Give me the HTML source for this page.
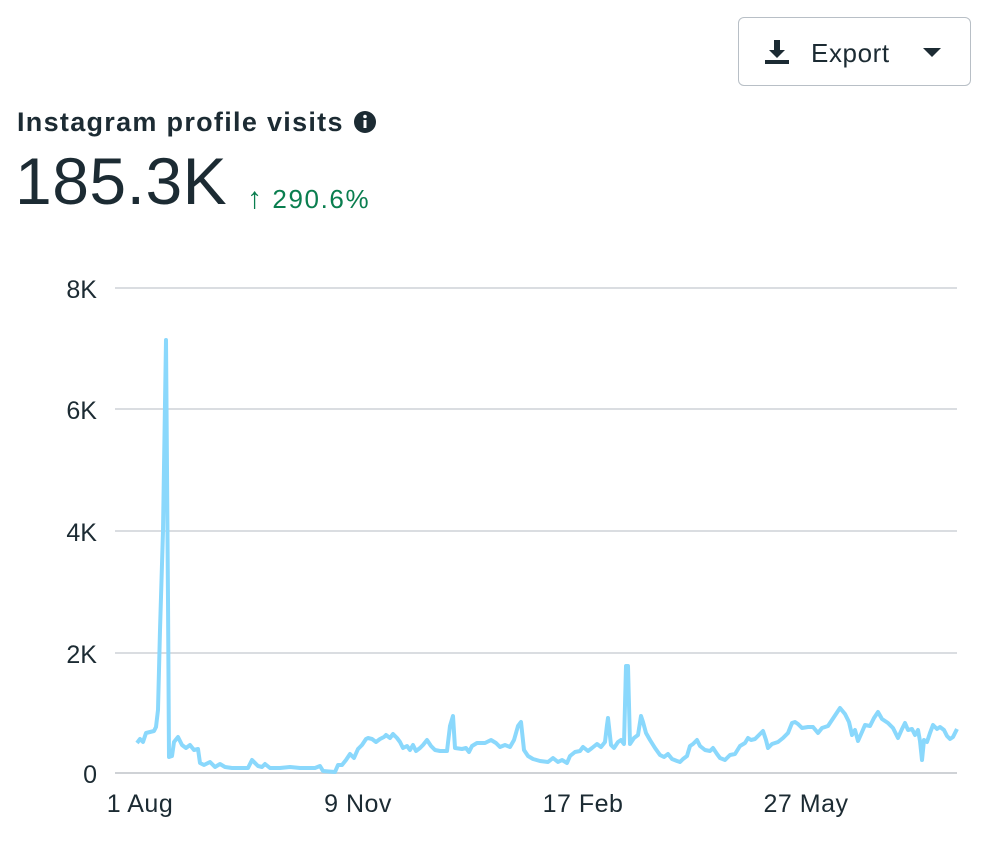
<!DOCTYPE html>
<html><head><style>
body{margin:0;width:1002px;height:868px;background:#fff;font-family:"Liberation Sans",sans-serif;color:#1c2b33;position:relative;overflow:hidden}
.btn{position:absolute;left:738px;top:17px;width:233px;height:69px;border:1.5px solid #b8bfc6;border-radius:6px;box-sizing:border-box}
.btn span{position:absolute;left:72px;top:20px;font-size:26px;letter-spacing:0.6px}
.title{position:absolute;left:17px;top:107px;font-size:27px;font-weight:bold;letter-spacing:1.3px;white-space:nowrap}
.big{position:absolute;left:15px;top:143px;font-size:66px;letter-spacing:0.5px}
.pct{position:absolute;left:247px;top:182px;font-size:26px;color:#0a7e4f;letter-spacing:1.6px;white-space:nowrap}
</style></head><body>
<div class="btn">
<svg style="position:absolute;left:24px;top:20px" width="28" height="28" viewBox="0 0 28 28"><path d="M11 2h6v10h5l-8 8-8-8h5z" fill="#1c2b33"/><rect x="2" y="22" width="24" height="4" fill="#1c2b33"/></svg>
<span>Export</span>
<svg style="position:absolute;left:184px;top:30px" width="18" height="10"><path d="M0 0h18l-9 9z" fill="#1c2b33"/></svg>
</div>
<div class="title">Instagram profile visits <svg width="24" height="24" style="vertical-align:-3px" viewBox="0 0 24 24"><circle cx="12" cy="12" r="11" fill="#1c2b33"/><rect x="10.5" y="10" width="3" height="8" fill="#fff"/><circle cx="12" cy="6.5" r="1.8" fill="#fff"/></svg></div>
<div class="big">185.3K</div>
<div class="pct"><span style="font-size:30px">↑</span> 290.6%</div>
<svg width="1002" height="868" style="position:absolute;left:0;top:0">
<g stroke="#dadde1" stroke-width="2">
<line x1="115" y1="288" x2="957" y2="288"/><line x1="115" y1="409" x2="957" y2="409"/><line x1="115" y1="531" x2="957" y2="531"/><line x1="115" y1="653" x2="957" y2="653"/><line x1="115" y1="773" x2="957" y2="773" stroke="#cfd2d6"/>
</g>
<g font-size="25" fill="#1c2b33" text-anchor="end" font-family="Liberation Sans,sans-serif">
<text x="97" y="298">8K</text><text x="97" y="419">6K</text><text x="97" y="541">4K</text><text x="97" y="663">2K</text><text x="97" y="783">0</text>
</g>
<g font-size="25" fill="#1c2b33" text-anchor="middle" font-family="Liberation Sans,sans-serif" letter-spacing="0.5">
<text x="140" y="812">1 Aug</text><text x="358" y="812">9 Nov</text><text x="583" y="812">17 Feb</text><text x="806" y="812">27 May</text>
</g>
<polyline fill="none" stroke="#8ad8fc" stroke-width="4" stroke-linejoin="round" points="137,743 140,739 143,742 146,733 150,732 154,731 156,727 158,710 160,630 163,531 166,340 168,600 169,757 172,756 174,742 178,737 182,745 186,748 190,745 194,750 198,749 200,763 204,765 210,762 215,767 220,764 225,767 232,768 240,768 248,768 252,760 258,766 262,767 265,764 270,768 280,768 290,767 300,768 315,768 320,766 323,771 335,772 338,765 342,765 346,760 350,754 354,758 358,749 362,745 366,739 368,738 372,739 376,742 380,739 384,737 386,735 390,738 393,734 397,738 400,742 403,748 407,746 410,750 413,745 416,751 420,748 423,745 427,740 431,746 435,750 440,751 447,751 450,726 453,716 455,748 462,749 466,748 469,752 472,746 477,743 485,743 491,740 496,743 500,747 505,745 510,747 514,740 518,726 521,722 524,750 528,756 533,759 540,761 548,762 553,758 558,762 562,760 567,763 570,756 575,752 580,751 583,747 588,751 592,748 597,744 601,747 605,742 607,725 608,718 611,745 614,748 618,742 621,740 624,744 626,666 628,666 630,744 634,738 638,735 641,716 643,722 646,733 650,740 655,748 660,755 664,757 668,754 672,759 677,761 680,762 683,759 687,756 690,746 693,744 697,740 700,746 705,750 710,751 713,748 717,754 720,758 725,760 730,755 735,754 740,746 745,743 748,738 751,740 755,739 760,734 763,731 766,740 768,748 772,744 778,742 783,738 788,733 792,723 795,722 798,724 802,728 808,727 813,727 818,733 822,728 828,726 832,720 836,714 840,708 845,714 849,722 852,735 855,730 858,741 862,732 865,725 870,726 874,718 878,712 882,719 888,723 893,728 898,738 902,729 905,723 908,730 912,729 915,735 918,730 920,741 922,760 924,740 927,742 930,733 933,725 937,729 940,727 944,730 947,736 950,739 953,737 957,729"/>
</svg>
</body></html>
